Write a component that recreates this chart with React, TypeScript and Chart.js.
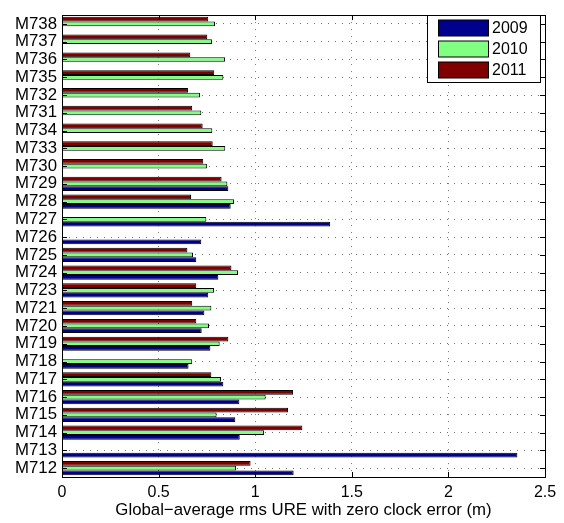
import React, { useEffect, useRef } from "react";
import { Chart, registerables } from "chart.js";

Chart.register(...registerables);

const categories = [
  "M738", "M737", "M736", "M735", "M732", "M731", "M734", "M733", "M730",
  "M729", "M728", "M727", "M726", "M725", "M724", "M723", "M721", "M720",
  "M719", "M718", "M717", "M716", "M715", "M714", "M713", "M712",
];

const values2011 = [
  0.757, 0.752, 0.664, 0.788, 0.652, 0.674, 0.728, 0.78, 0.731,
  0.826, 0.668, null, null, 0.649, 0.877, 0.695, 0.674, 0.695,
  0.861, null, 0.773, 1.196, 1.17, 1.244, null, 0.976,
];

const values2010 = [
  0.792, 0.776, 0.844, 0.835, 0.714, 0.721, 0.778, 0.845, 0.75,
  0.856, 0.89, 0.747, null, 0.678, 0.911, 0.787, 0.773, 0.761,
  0.816, 0.674, 0.823, 1.054, 0.8, 1.046, null, 0.901,
];

const values2009 = [
  null, null, null, null, null, null, null, null, null,
  0.861, 0.873, 1.388, 0.721, 0.695, 0.809, 0.757, 0.737, 0.723,
  0.768, 0.655, 0.835, 0.918, 0.897, 0.92, 2.357, 1.199,
];

const xTicks = [0, 0.5, 1, 1.5, 2, 2.5];
const xTitle = "Global\u2212average rms URE with zero clock error (m)";

const FONT = '"Liberation Sans", Arial, sans-serif';

const framePlugin = {
  id: "frameAndLegend",
  afterDraw(chart: any) {
    const { ctx, chartArea } = chart;
    const { left, right, top, bottom } = chartArea;
    const xs = chart.scales.x;
    const ys = chart.scales.y;
    ctx.save();
    ctx.strokeStyle = "#000";
    ctx.lineWidth = 1;
    ctx.setLineDash([]);
    ctx.strokeRect(Math.round(left) + 0.5, Math.round(top) + 0.5, Math.round(right - left), Math.round(bottom - top));
    const tl = 5;
    ctx.beginPath();
    xTicks.forEach((v) => {
      const px = Math.round(xs.getPixelForValue(v)) + 0.5;
      ctx.moveTo(px, bottom);
      ctx.lineTo(px, bottom - tl);
      ctx.moveTo(px, top);
      ctx.lineTo(px, top + tl);
    });
    categories.forEach((_, i) => {
      const py = Math.round(ys.getPixelForValue(i)) + 0.5;
      ctx.moveTo(left, py);
      ctx.lineTo(left + tl, py);
      ctx.moveTo(right, py);
      ctx.lineTo(right - tl, py);
    });
    ctx.stroke();

    const ds = chart.data.datasets.slice().reverse();
    const bx = 427.5, by = 15.5, bw = 113, bh = 67;
    ctx.fillStyle = "#fff";
    ctx.fillRect(bx, by, bw, bh);
    ctx.strokeRect(bx, by, bw, bh);
    ctx.font = `16px ${FONT}`;
    ctx.textBaseline = "middle";
    ctx.textAlign = "left";
    ds.forEach((d: any, i: number) => {
      const cy = 28 + i * 21;
      ctx.fillStyle = d.backgroundColor;
      ctx.fillRect(438.5, cy - 8, 50, 16);
      ctx.strokeRect(438.5, cy - 8, 50, 16);
      ctx.fillStyle = "#000";
      ctx.fillText(d.label, 492, cy + 1);
    });
    ctx.restore();
  },
};

export default function App() {
  const ref = useRef<HTMLCanvasElement | null>(null);
  useEffect(() => {
    document.body.style.margin = "0";
    const canvas = ref.current;
    if (!canvas) return;
    const common = {
      borderColor: "#000",
      borderWidth: 1,
      categoryPercentage: 0.8,
      barPercentage: 1.0,
    };
    const chart = new Chart(canvas, {
      type: "bar",
      data: {
        labels: categories,
        datasets: [
          { label: "2011", data: values2011, backgroundColor: "#800000", ...common },
          { label: "2010", data: values2010, backgroundColor: "#80FF80", ...common },
          { label: "2009", data: values2009, backgroundColor: "#00008F", ...common },
        ] as any,
      },
      options: {
        indexAxis: "y",
        responsive: false,
        animation: false,
        devicePixelRatio: 1,
        layout: { padding: { top: 7, right: 19, left: 0, bottom: 0 } },
        plugins: {
          legend: { display: false },
          tooltip: { enabled: false },
        },
        scales: {
          x: {
            type: "linear",
            min: 0,
            max: 2.5,
            afterBuildTicks: (scale: any) => {
              scale.ticks = xTicks.map((v) => ({ value: v }));
            },
            afterFit: (scale: any) => {
              scale.height = 46;
            },
            ticks: {
              color: "#000",
              font: { family: FONT, size: 16 },
              padding: 6,
              maxRotation: 0,
              callback: (v: any) => String(v),
            },
            grid: {
              drawTicks: false,
              color: "rgba(0,0,0,0.55)",
              lineWidth: 1,
            },
            border: { display: false, dash: [1, 6] },
            title: {
              display: true,
              text: xTitle,
              color: "#000",
              font: { family: FONT, size: 16.8 },
              padding: { top: 0, bottom: 3 },
            },
          },
          y: {
            type: "category",
            offset: true,
            afterFit: (scale: any) => {
              scale.width = 62;
            },
            ticks: {
              color: "#000",
              font: { family: FONT, size: 16.8 },
              padding: 5,
              autoSkip: false,
            },
            grid: {
              offset: false,
              drawTicks: false,
              color: "rgba(0,0,0,0.55)",
              lineWidth: 1,
            },
            border: { display: false, dash: [1, 6] },
          },
        },
      } as any,
      plugins: [framePlugin],
    });
    return () => chart.destroy();
  }, []);
  return (
    <canvas
      ref={ref}
      width={564}
      height={523}
      style={{ display: "block", width: 564, height: 523 }}
    />
  );
}
